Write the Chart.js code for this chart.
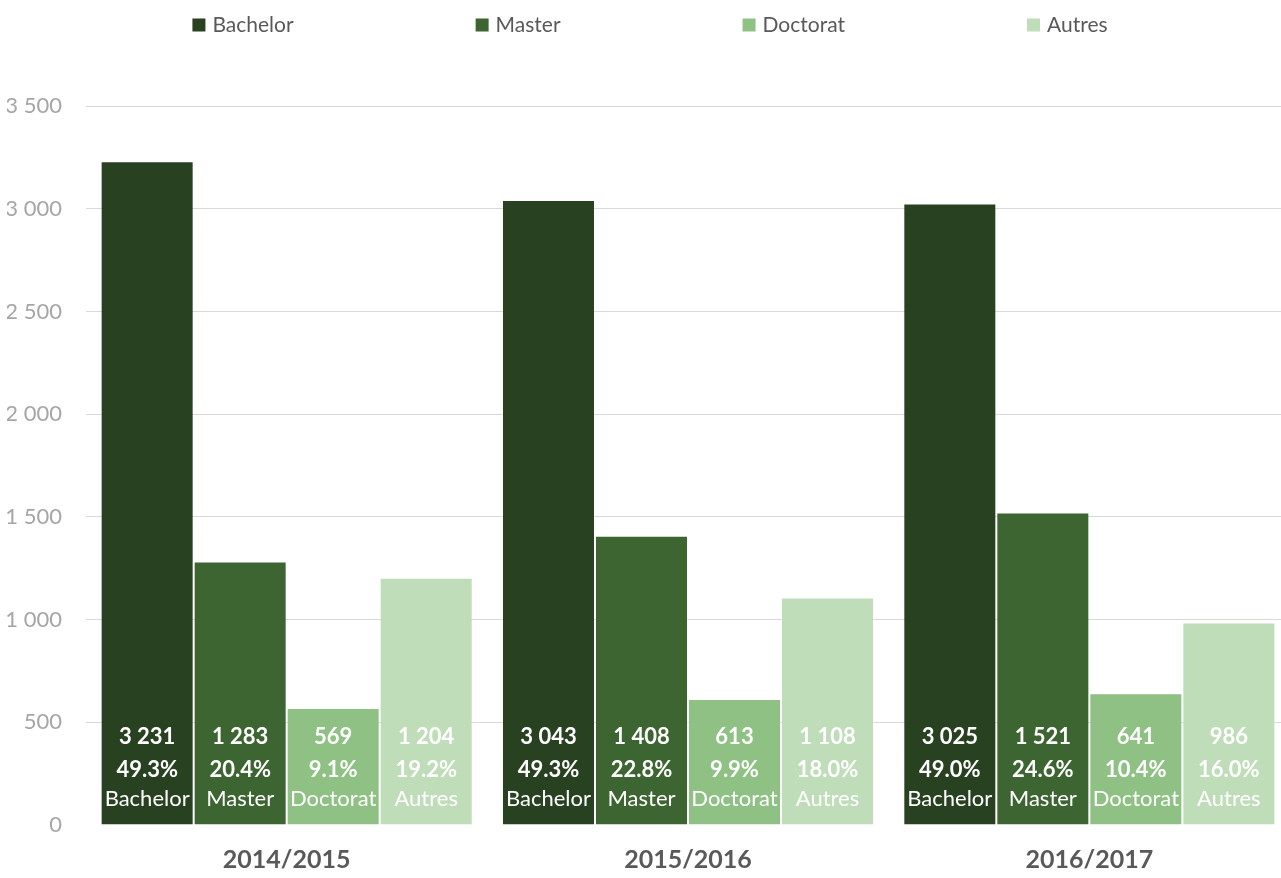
<!DOCTYPE html>
<html>
<head>
<meta charset="utf-8">
<script src="https://cdn.jsdelivr.net/npm/chart.js@4"></script>
<style>
  html, body { margin: 0; padding: 0; background: #ffffff; overflow: hidden; }
  #wrap { width: 1290px; height: 878px; position: relative; }
</style>
</head>
<body>
<div id="wrap"><canvas id="c"></canvas></div>
<script>
const categories = ['2014/2015', '2015/2016', '2016/2017'];
const seriesNames = ['Bachelor', 'Master', 'Doctorat', 'Autres'];
const bachelor = [3231, 3043, 3025];
const master = [1283, 1408, 1521];
const doctorat = [569, 613, 641];
const autres = [1204, 1108, 986];
const bachelorPct = [49.3, 49.3, 49.0];
const masterPct = [20.4, 22.8, 24.6];
const doctoratPct = [9.1, 9.9, 10.4];
const autresPct = [19.2, 18.0, 16.0];
const yMin = 0, yMax = 3500, yStep = 500;
const colors = ['#284221', '#3D6532', '#8EC183', '#C0DDB9'];

const FONT = 'Lato, "Open Sans", sans-serif';
const fmt = v => String(v).replace(/\B(?=(\d{3})+(?!\d))/g, ' ');

const values = [bachelor, master, doctorat, autres];
const pcts = [bachelorPct, masterPct, doctoratPct, autresPct];

const labelPlugin = {
  id: 'barLabels',
  afterDatasetsDraw(chart) {
    const ctx = chart.ctx;
    ctx.save();
    ctx.fillStyle = '#ffffff';
    ctx.textAlign = 'center';
    ctx.textBaseline = 'middle';
    chart.data.datasets.forEach((ds, i) => {
      const meta = chart.getDatasetMeta(i);
      meta.data.forEach((el, j) => {
        const x = el.x, base = el.base;
        ctx.font = 'bold 22px ' + FONT;
        ctx.fillText(fmt(values[i][j]), x, base - 88);
        ctx.fillText(pcts[i][j].toFixed(1) + '%', x, base - 55);
        ctx.font = '22px ' + FONT;
        ctx.fillText(seriesNames[i], x, base - 26);
      });
    });
    ctx.restore();
  }
};

const legendPlugin = {
  id: 'customLegend',
  afterDraw(chart) {
    const ctx = chart.ctx;
    ctx.save();
    ctx.font = '21px ' + FONT;
    const box = 13, gapText = 7, gapItem = 182;
    const widths = seriesNames.map(n => box + gapText + ctx.measureText(n).width);
    const total = widths.reduce((a, b) => a + b, 0) + gapItem * (widths.length - 1);
    let x = chart.width / 2 + 5 - total / 2;
    const yc = 25;
    ctx.textBaseline = 'middle';
    ctx.textAlign = 'left';
    seriesNames.forEach((n, i) => {
      ctx.fillStyle = colors[i];
      ctx.fillRect(x, yc - box / 2, box, box);
      ctx.fillStyle = '#595959';
      ctx.fillText(n, x + box + gapText, yc);
      x += widths[i] + gapItem;
    });
    ctx.restore();
  }
};

new Chart(document.getElementById('c'), {
  type: 'bar',
  data: {
    labels: categories,
    datasets: seriesNames.map((n, i) => ({
      label: n,
      data: values[i],
      backgroundColor: colors[i],
      borderColor: 'rgba(255,255,255,0.15)',
      borderWidth: 1,
      categoryPercentage: 0.927,
      barPercentage: 1.0
    }))
  },
  options: {
    responsive: true,
    maintainAspectRatio: false,
    animation: false,
    layout: { padding: { left: 7, right: 0, top: 106, bottom: 3 } },
    plugins: {
      legend: { display: false },
      tooltip: { enabled: false }
    },
    scales: {
      x: {
        grid: { display: false, drawTicks: false },
        border: { display: false },
        ticks: {
          color: '#595959',
          font: { family: FONT, size: 25, weight: 'bold' },
          padding: 20
        },
        afterFit: s => { s.height = 50; }
      },
      y: {
        min: yMin,
        max: yMax,
        border: { display: false },
        grid: {
          drawTicks: false,
          color: ctx => (ctx.tick && ctx.tick.value === 0) ? 'rgba(0,0,0,0)' : '#d9d9d9',
          lineWidth: 1
        },
        ticks: {
          stepSize: yStep,
          color: '#a6a6a6',
          font: { family: FONT, size: 22 },
          padding: 24,
          callback: v => fmt(v)
        },
        afterFit: s => { s.width = 79; }
      }
    }
  },
  plugins: [labelPlugin, legendPlugin]
});
</script>
</body>
</html>
